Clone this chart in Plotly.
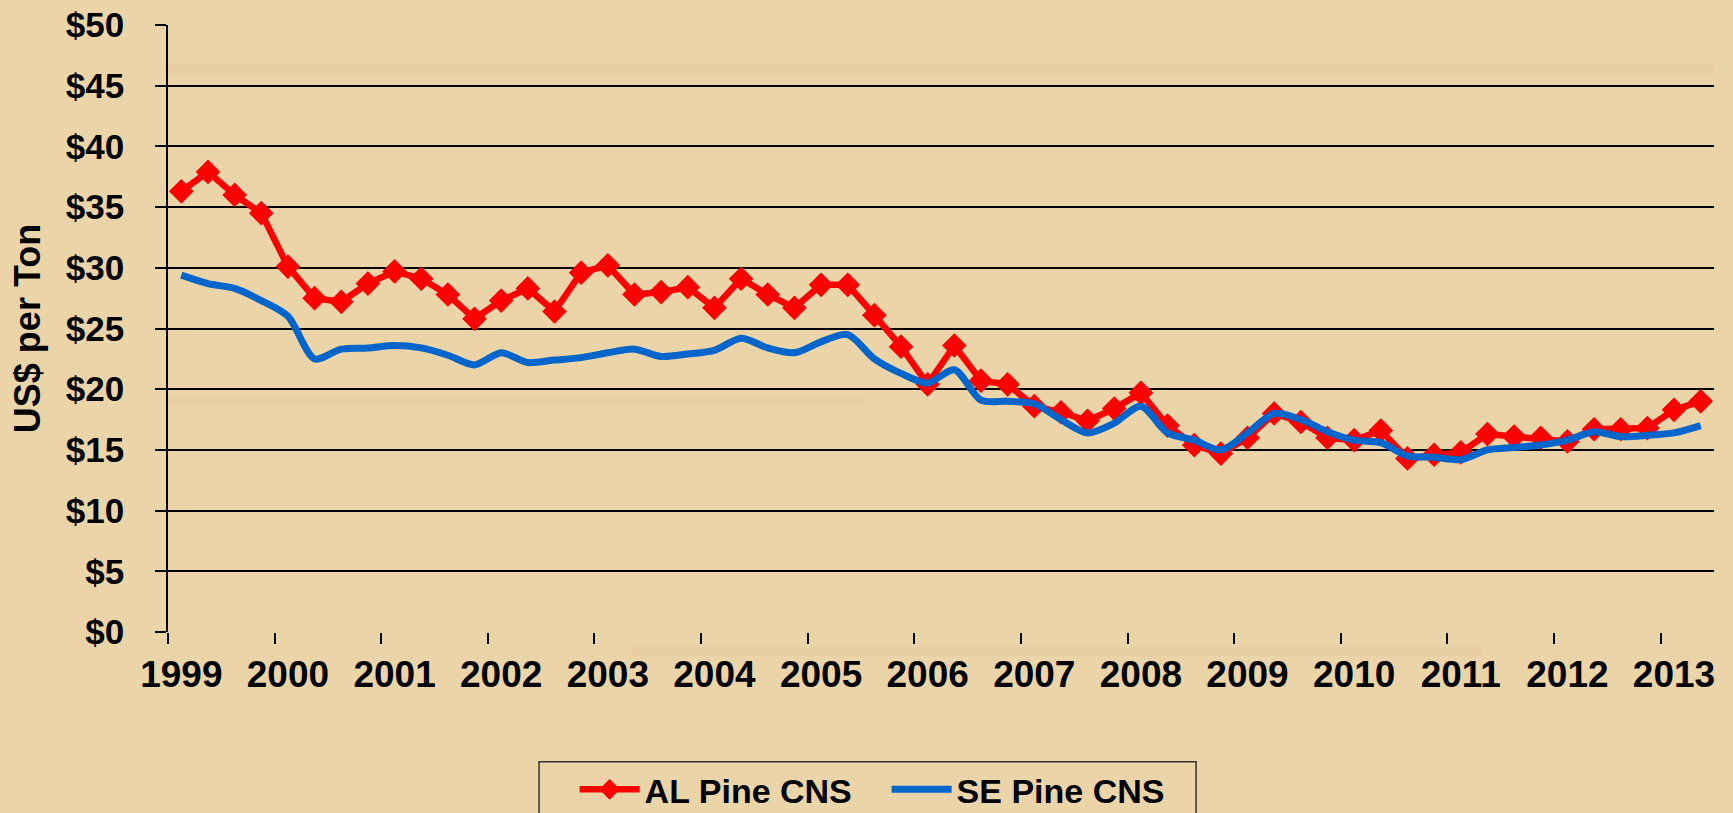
import plotly.graph_objects as go

# Quarterly data, 1999 Q1 .. 2013 Q2 (58 quarters)
years = list(range(1999, 2014))
al_pine_cns = [36.3, 37.9, 36.0, 34.5, 30.1, 27.5, 27.2, 28.7, 29.7, 29.1,
               27.8, 25.8, 27.3, 28.3, 26.4, 29.6, 30.2, 27.8, 28.0, 28.4,
               26.7, 29.1, 27.8, 26.7, 28.6, 28.6, 26.1, 23.5, 20.4, 23.6,
               20.7, 20.4, 18.6, 18.1, 17.4, 18.4, 19.7, 17.0, 15.4, 14.7,
               16.0, 18.0, 17.3, 16.0, 15.8, 16.6, 14.3, 14.6, 14.8, 16.3,
               16.1, 16.0, 15.7, 16.7, 16.7, 16.8, 18.3, 19.0]
se_pine_cns = [29.4, 28.7, 28.3, 27.3, 26.0, 22.5, 23.3, 23.4, 23.6, 23.4,
               22.8, 22.0, 23.0, 22.2, 22.4, 22.6, 23.0, 23.3, 22.7, 22.9,
               23.2, 24.2, 23.4, 23.0, 23.9, 24.5, 22.5, 21.3, 20.5, 21.6,
               19.1, 19.0, 18.8, 17.5, 16.4, 17.2, 18.6, 16.4, 15.8, 15.0,
               16.4, 18.0, 17.5, 16.5, 15.8, 15.6, 14.5, 14.4, 14.2, 15.0,
               15.2, 15.4, 15.8, 16.5, 16.1, 16.2, 16.4, 17.0]
y_ticks = list(range(0, 55, 5))

n = len(al_pine_cns)
xs = list(range(n))
label_pos = [4 * k for k in range(len(years))]
boundary_pos = [4 * k - 0.5 for k in range(len(years))]

FONT = "Liberation Sans, Arial, sans-serif"

fig = go.Figure()
fig.add_trace(go.Scatter(
    x=xs, y=al_pine_cns, name="AL Pine CNS", mode="lines+markers",
    line=dict(color="#FF0000", width=6.5),
    marker=dict(symbol="diamond", size=19, color="#FF0000"),
))
fig.add_trace(go.Scatter(
    x=xs, y=se_pine_cns, name="SE Pine CNS", mode="lines",
    line=dict(color="#0066CC", width=7, shape="spline", smoothing=0.8),
))

# faint wood-grain streaks in the background
streaks = [(0.0, 1.0, 0.935, 0.92), (0.0, 0.45, 0.385, 0.372),
           (0.3, 0.85, -0.025, -0.04)]
shapes = []
for x0, x1, y0, y1 in streaks:
    shapes.append(dict(type="rect", xref="paper", yref="paper",
                       x0=x0, x1=x1, y0=y0, y1=y1, layer="below",
                       line=dict(width=0), fillcolor="rgba(205,165,115,0.12)"))
# legend frame (extends past the bottom edge as in the original)
shapes.append(dict(type="rect", xref="paper", yref="paper",
                   x0=0.24, x1=0.665, y0=-0.2137, y1=-0.34,
                   line=dict(color="#333333", width=1.5),
                   fillcolor="rgba(0,0,0,0)"))

fig.update_layout(
    width=1733, height=813,
    margin=dict(l=168, r=19, t=25, b=181, autoexpand=False),
    paper_bgcolor="#ECD4A9",
    plot_bgcolor="rgba(0,0,0,0)",
    font=dict(family=FONT, size=33, color="black"),
    shapes=shapes,
    showlegend=True,
    legend=dict(
        orientation="h", x=0.263, xanchor="left", y=-0.212, yanchor="top",
        borderwidth=0, bgcolor="rgba(0,0,0,0)",
        font=dict(family=FONT, size=34, color="black", weight="bold"),
        entrywidth=237, itemwidth=60,
    ),
    xaxis=dict(
        range=[-0.5, n - 0.5], tickmode="array", tickvals=label_pos,
        ticktext=[str(y) for y in years], ticks="", showgrid=False,
        showline=False, zeroline=False, ticklabelstandoff=17,
        automargin=False,
        tickfont=dict(family=FONT, size=37, weight="bold"),
        minor=dict(tickmode="array", tickvals=boundary_pos, ticks="outside",
                   ticklen=11, tickwidth=1.5, tickcolor="black", showgrid=False),
    ),
    xaxis2=dict(
        overlaying="x", anchor="y", side="bottom", range=[-0.5, n - 0.5],
        tickmode="array", tickvals=boundary_pos[1:], ticks="inside", ticklen=12,
        tickwidth=1.5, tickcolor="black", showticklabels=False,
        showgrid=False, showline=False, zeroline=False,
    ),
    yaxis=dict(
        range=[0, 50], tickmode="array", tickvals=y_ticks,
        ticktext=["$" + str(v) for v in y_ticks],
        ticks="outside", ticklen=11, tickwidth=1.5, tickcolor="black",
        showgrid=True, gridcolor="black", gridwidth=2,
        showline=True, linecolor="black", linewidth=1.5,
        zeroline=False, ticklabelstandoff=24, automargin=False,
        tickfont=dict(family=FONT, size=35, weight="bold"),
        title=dict(text="US$ per Ton", standoff=14,
                   font=dict(family=FONT, size=36, weight="bold")),
    ),
)

fig.write_html("out.html", config={"displayModeBar": False},
               post_script="document.body.style.margin='0';")
